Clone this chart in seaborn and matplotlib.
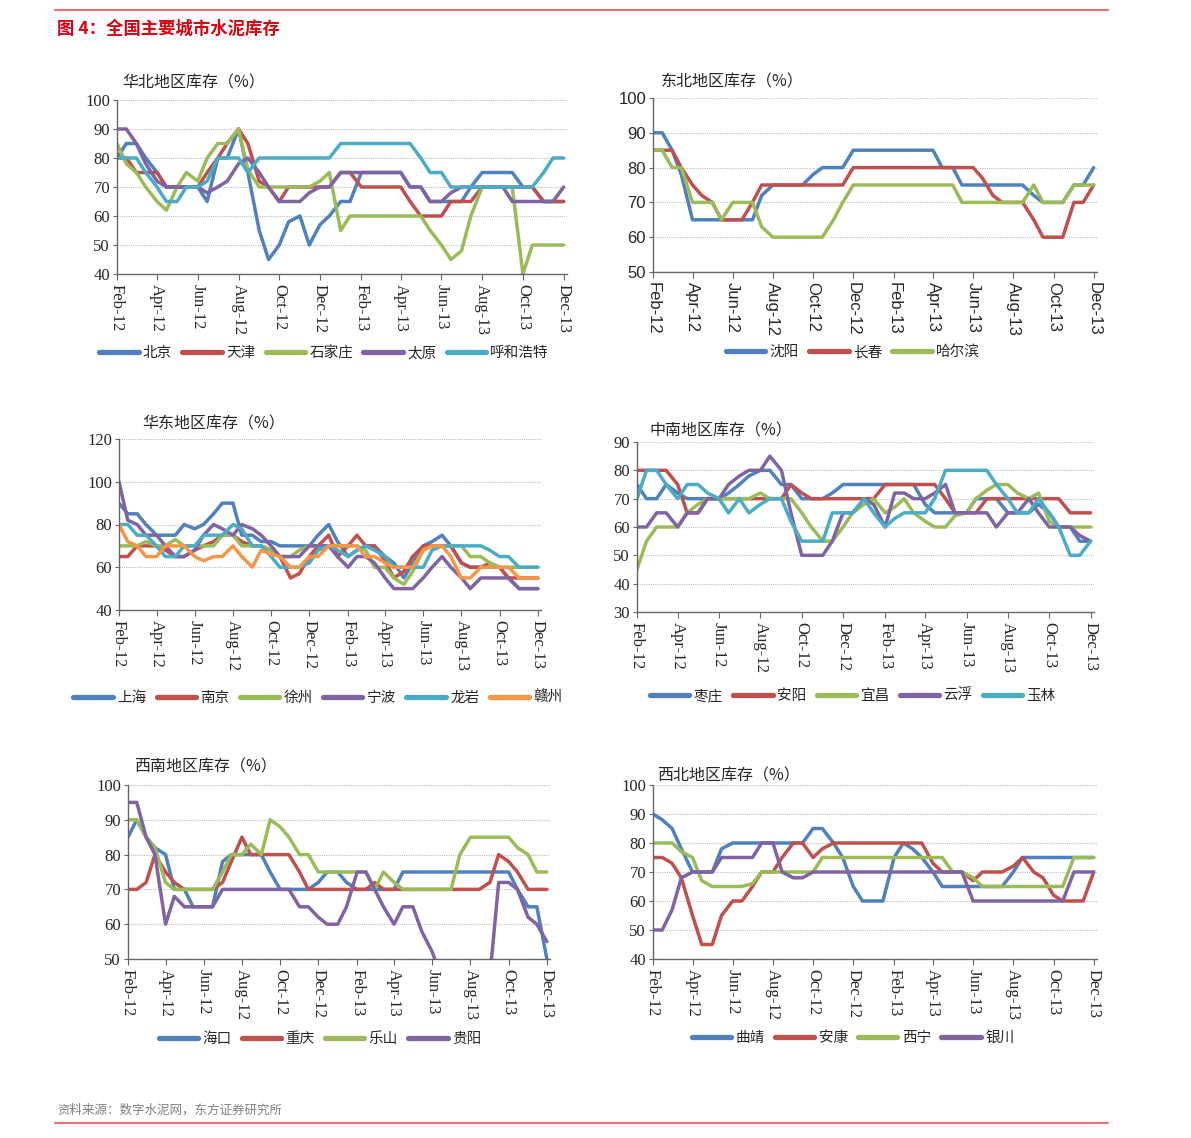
import numpy as np
import pandas as pd
import seaborn as sns
import matplotlib.pyplot as plt
import matplotlib.dates as mdates
from matplotlib.lines import Line2D

# semi-monthly readings, Feb-12 .. Dec-13 (45 points)
dates = pd.date_range('2012-02-01', '2013-12-01', freq='SMS')

# 华北
hb_names = ['北京', '天津', '石家庄', '太原', '呼和浩特']
hb_beijing = [80, 85, 85, 80, 75, 70, 70, 70, 70, 65, 80, 80, 90, 75, 55, 45, 50, 58, 60, 50, 57, 60, 65, 65, 75,
              75, 75, 75, 75, 70, 70, 65, 65, 65, 65, 70, 75, 75, 75, 75, 70, 70, 65, 65, 65]
hb_tianjin = [80, 80, 75, 75, 75, 70, 70, 70, 70, 75, 80, 85, 90, 85, 72, 70, 65, 70, 70, 70, 70, 70, 75, 75, 70,
              70, 70, 70, 70, 65, 60, 60, 60, 65, 65, 65, 70, 70, 70, 70, 70, 70, 65, 65, 65]
hb_shijiazhuang = [85, 78, 75, 70, 65, 62, 70, 75, 72, 80, 85, 85, 90, 76, 70, 70, 70, 70, 70, 70, 72, 75, 55, 60, 60,
                   60, 60, 60, 60, 60, 60, 55, 50, 45, 48, 60, 70, 70, 70, 70, 40, 50, 50, 50, 50]
hb_taiyuan = [90, 90, 85, 78, 72, 70, 70, 70, 70, 68, 70, 72, 78, 80, 75, 70, 65, 65, 65, 68, 70, 70, 75, 75, 75,
              75, 75, 75, 75, 70, 70, 65, 65, 68, 70, 70, 70, 70, 70, 65, 65, 65, 65, 65, 70]
hb_huhehaote = [80, 80, 80, 75, 70, 65, 65, 70, 70, 72, 80, 80, 80, 75, 80, 80, 80, 80, 80, 80, 80, 80, 85, 85, 85,
                85, 85, 85, 85, 85, 80, 75, 75, 70, 70, 70, 70, 70, 70, 70, 70, 70, 75, 80, 80]

# 东北
db_names = ['沈阳', '长春', '哈尔滨']
db_shenyang = [90, 90, 85, 78, 65, 65, 65, 65, 65, 65, 65, 72, 75, 75, 75, 75, 78, 80, 80, 80, 85, 85, 85, 85, 85,
               85, 85, 85, 85, 80, 80, 75, 75, 75, 75, 75, 75, 75, 72, 70, 70, 70, 75, 75, 80]
db_changchun = [85, 85, 85, 80, 75, 72, 70, 65, 65, 65, 70, 75, 75, 75, 75, 75, 75, 75, 75, 75, 80, 80, 80, 80, 80,
                80, 80, 80, 80, 80, 80, 80, 80, 77, 72, 70, 70, 70, 65, 60, 60, 60, 70, 70, 75]
db_haerbin = [85, 85, 80, 80, 70, 70, 70, 65, 70, 70, 70, 63, 60, 60, 60, 60, 60, 60, 65, 70, 75, 75, 75, 75, 75,
              75, 75, 75, 75, 75, 75, 70, 70, 70, 70, 70, 70, 70, 75, 70, 70, 70, 75, 75, 75]

# 华东
hd_names = ['上海', '南京', '徐州', '宁波', '龙岩', '赣州']
hd_shanghai = [90, 85, 85, 80, 75, 75, 75, 80, 78, 80, 85, 90, 90, 75, 75, 72, 72, 70, 70, 70, 70, 75, 80, 72, 65,
               68, 70, 70, 65, 62, 55, 62, 70, 72, 75, 70, 62, 60, 60, 60, 60, 55, 50, 50, 50]
hd_nanjing = [65, 65, 70, 70, 70, 68, 65, 65, 68, 70, 72, 75, 75, 72, 70, 70, 68, 65, 55, 57, 65, 70, 75, 65, 70,
              75, 70, 70, 63, 55, 58, 65, 70, 70, 70, 70, 62, 60, 60, 62, 60, 55, 55, 55, 55]
hd_xuzhou = [70, 70, 70, 72, 70, 70, 73, 70, 70, 70, 70, 75, 75, 70, 70, 70, 68, 65, 65, 68, 70, 70, 70, 70, 70,
             70, 68, 60, 60, 55, 52, 58, 68, 70, 70, 70, 70, 65, 65, 62, 60, 60, 60, 60, 60]
hd_ningbo = [100, 82, 80, 75, 75, 70, 65, 65, 68, 75, 80, 78, 75, 80, 78, 75, 70, 65, 65, 65, 70, 70, 70, 65, 60,
             65, 65, 62, 55, 50, 50, 50, 55, 60, 65, 60, 55, 50, 55, 55, 55, 55, 50, 50, 50]
hd_longyan = [80, 80, 75, 75, 70, 65, 65, 70, 70, 75, 75, 75, 80, 78, 70, 70, 65, 60, 60, 60, 62, 68, 70, 68, 65,
              68, 70, 68, 65, 60, 60, 60, 60, 68, 70, 70, 70, 70, 70, 68, 65, 65, 60, 60, 60]
hd_ganzhou = [80, 72, 70, 65, 65, 70, 70, 70, 65, 63, 65, 65, 70, 65, 60, 68, 66, 65, 60, 60, 65, 65, 70, 70, 70,
              70, 65, 65, 62, 60, 60, 60, 68, 70, 70, 65, 55, 55, 60, 60, 60, 60, 55, 55, 55]

# 中南
zn_names = ['枣庄', '安阳', '宜昌', '云浮', '玉林']
zn_zaozhuang = [75, 70, 70, 75, 72, 70, 70, 70, 70, 72, 75, 78, 80, 80, 75, 75, 70, 70, 70, 72, 75, 75, 75, 75, 75,
                75, 75, 75, 68, 65, 65, 65, 65, 70, 70, 70, 65, 65, 65, 68, 65, 60, 60, 55, 55]
zn_anyang = [80, 80, 80, 80, 75, 65, 65, 70, 70, 70, 70, 70, 70, 70, 70, 75, 72, 70, 70, 70, 70, 70, 70, 70, 75,
             75, 75, 75, 75, 75, 70, 65, 65, 65, 70, 70, 70, 70, 70, 70, 70, 70, 65, 65, 65]
zn_yichang = [45, 55, 60, 60, 60, 65, 68, 70, 70, 70, 70, 70, 72, 70, 70, 70, 65, 60, 55, 55, 60, 65, 68, 70, 65,
              67, 70, 65, 62, 60, 60, 64, 65, 70, 73, 75, 75, 72, 70, 72, 62, 60, 60, 60, 60]
zn_yunfu = [60, 60, 65, 65, 60, 65, 65, 70, 70, 75, 78, 80, 80, 85, 80, 65, 50, 50, 50, 55, 65, 65, 70, 68, 60,
            72, 72, 70, 70, 72, 75, 65, 65, 65, 65, 60, 65, 65, 70, 65, 60, 60, 60, 57, 55]
zn_yulin = [70, 80, 80, 75, 70, 75, 75, 72, 70, 65, 70, 65, 68, 70, 70, 62, 55, 55, 55, 65, 65, 65, 70, 65, 60,
            63, 65, 65, 65, 70, 80, 80, 80, 80, 80, 75, 70, 65, 65, 70, 65, 60, 50, 50, 55]

# 西南 (贵阳 drops below the 50 floor mid-2013)
xn_names = ['海口', '重庆', '乐山', '贵阳']
xn_haikou = [85, 90, 85, 82, 80, 70, 70, 65, 65, 65, 78, 80, 80, 80, 80, 75, 70, 70, 70, 70, 72, 75, 75, 72, 70,
             70, 70, 70, 70, 75, 75, 75, 75, 75, 75, 75, 75, 75, 75, 75, 75, 70, 65, 65, 50]
xn_chongqing = [70, 70, 72, 80, 75, 72, 70, 70, 70, 70, 72, 78, 85, 80, 80, 80, 80, 80, 75, 70, 70, 70, 70, 70, 70,
                70, 72, 70, 70, 70, 70, 70, 70, 70, 70, 70, 70, 70, 72, 80, 78, 75, 70, 70, 70]
xn_leshan = [90, 90, 85, 82, 72, 70, 70, 70, 70, 70, 75, 80, 80, 83, 80, 90, 88, 85, 80, 80, 75, 75, 75, 75, 75,
             75, 70, 75, 72, 70, 70, 70, 70, 70, 70, 80, 85, 85, 85, 85, 85, 82, 80, 75, 75]
xn_guiyang = [95, 95, 85, 80, 60, 68, 65, 65, 65, 65, 70, 70, 70, 70, 70, 70, 70, 70, 65, 65, 62, 60, 60, 65, 75,
              75, 70, 65, 60, 65, 65, 58, 52, 45, 45, 45, 45, 45, 45, 72, 72, 70, 62, 60, 55]

# 西北
xb_names = ['曲靖', '安康', '西宁', '银川']
xb_qujing = [90, 88, 85, 78, 70, 70, 70, 78, 80, 80, 80, 80, 80, 80, 80, 80, 85, 85, 80, 75, 65, 60, 60, 60, 75,
             80, 78, 75, 70, 65, 65, 65, 65, 65, 65, 65, 70, 75, 75, 75, 75, 75, 75, 75, 75]
xb_ankang = [75, 75, 73, 68, 55, 45, 45, 55, 60, 60, 65, 70, 70, 75, 80, 80, 75, 78, 80, 80, 80, 80, 80, 80, 80,
             80, 80, 80, 73, 70, 70, 70, 67, 70, 70, 70, 72, 75, 70, 68, 62, 60, 60, 60, 70]
xb_xining = [80, 80, 80, 77, 75, 67, 65, 65, 65, 65, 66, 70, 70, 70, 70, 70, 70, 75, 75, 75, 75, 75, 75, 75, 75,
             75, 75, 75, 75, 75, 70, 70, 68, 65, 65, 65, 65, 65, 65, 65, 65, 65, 75, 75, 75]
xb_yinchuan = [50, 50, 57, 68, 70, 70, 70, 75, 75, 75, 75, 80, 80, 70, 68, 68, 70, 70, 70, 70, 70, 70, 70, 70, 70,
               70, 70, 70, 70, 70, 70, 70, 60, 60, 60, 60, 60, 60, 60, 60, 60, 60, 70, 70, 70]

palette = ['#4F81BD', '#C0504D', '#9BBB59', '#8064A2', '#4BACC6', '#F79646']

sns.set_style('white')
plt.rcParams['font.family'] = ['Noto Sans CJK SC', 'DejaVu Sans']

W, H = 1191, 1138
fig = plt.figure(figsize=(W / 100, H / 100), dpi=100)


def px_axes(left, top, right, bottom):
    return fig.add_axes([left / W, 1 - bottom / H, (right - left) / W, (bottom - top) / H])


def draw_panel(box, title, title_xy, names, series, ylim, ystep, legend_xy, tick_font='Liberation Serif'):
    ax = px_axes(*box)
    colors = palette[:len(names)]
    for name, vals, c in zip(names, series, colors):
        sns.lineplot(x=dates, y=vals, ax=ax, color=c, linewidth=2.5, legend=False)

    ax.set_xlim(pd.Timestamp('2012-02-01'), pd.Timestamp('2013-12-06'))
    ax.set_ylim(*ylim)
    ax.set_yticks(np.arange(ylim[0], ylim[1] + 1, ystep))
    ax.xaxis.set_major_locator(mdates.MonthLocator(bymonth=range(2, 13, 2)))
    ax.xaxis.set_major_formatter(mdates.DateFormatter('%b-%y'))
    ax.set_xlabel('')
    ax.set_ylabel('')

    ax.yaxis.grid(True, linestyle=(0, (1, 1)), color='#BFBFBF', linewidth=0.8)
    ax.xaxis.grid(False)
    ax.set_axisbelow(True)
    sns.despine(ax=ax)
    for side in ['left', 'bottom']:
        ax.spines[side].set_color('#666666')
        ax.spines[side].set_linewidth(1.0)

    ax.tick_params(axis='x', direction='out', length=4, color='#666666', labelrotation=-90,
                   labelsize=12, pad=3, labelfontfamily=tick_font, bottom=True)
    ax.tick_params(axis='y', direction='out', length=3, color='#666666', labelsize=12, pad=2,
                   labelfontfamily=tick_font, left=True)

    fig.text(title_xy[0] / W, 1 - title_xy[1] / H, title, fontsize=11.5, va='center', ha='left')

    handles = [Line2D([], [], color=c, linewidth=3.8) for c in colors]
    fig.legend(handles, names, loc='center', bbox_to_anchor=(legend_xy[0] / W, 1 - legend_xy[1] / H),
               ncol=len(names), frameon=False, fontsize=10.5, handlelength=2.7, handletextpad=0.3,
               columnspacing=0.7)
    return ax


draw_panel((117, 100, 567, 274), '华北地区库存（%）', (122, 83), hb_names,
           [hb_beijing, hb_tianjin, hb_shijiazhuang, hb_taiyuan, hb_huhehaote], (40, 100), 10, (324, 353))
draw_panel((653, 98, 1097, 272), '东北地区库存（%）', (661, 82), db_names,
           [db_shenyang, db_changchun, db_haerbin], (50, 100), 10, (853, 352), tick_font='Liberation Sans')
draw_panel((119, 439, 541, 610), '华东地区库存（%）', (142, 424), hd_names,
           [hd_shanghai, hd_nanjing, hd_xuzhou, hd_ningbo, hd_longyan, hd_ganzhou], (40, 120), 20, (318, 698))
draw_panel((637, 442, 1094, 612), '中南地区库存（%）', (649, 431), zn_names,
           [zn_zaozhuang, zn_anyang, zn_yichang, zn_yunfu, zn_yulin], (30, 90), 10, (853, 696))
draw_panel((128, 785, 550, 959), '西南地区库存（%）', (134, 767), xn_names,
           [xn_haikou, xn_chongqing, xn_leshan, xn_guiyang], (50, 100), 10, (320, 1039))
draw_panel((653, 785, 1097, 959), '西北地区库存（%）', (657, 776), xb_names,
           [xb_qujing, xb_ankang, xb_xining, xb_yinchuan], (40, 100), 10, (853, 1038))

# header / footer
fig.add_artist(Line2D([55 / W, 1108 / W], [1 - 10 / H, 1 - 10 / H], transform=fig.transFigure,
                      color='#E57373', linewidth=1.5))
fig.text(57 / W, 1 - 29 / H, '图 4：全国主要城市水泥库存', color='#D7000F', fontsize=12.5,
         fontweight='bold', va='center', ha='left')
fig.text(57 / W, 1 - 1110 / H, '资料来源：数字水泥网，东方证券研究所', color='#808080', fontsize=9,
         va='center', ha='left')
fig.add_artist(Line2D([55 / W, 1108 / W], [1 - 1123 / H, 1 - 1123 / H], transform=fig.transFigure,
                      color='#E57373', linewidth=1.5))

fig.savefig('out.png', dpi=100)
